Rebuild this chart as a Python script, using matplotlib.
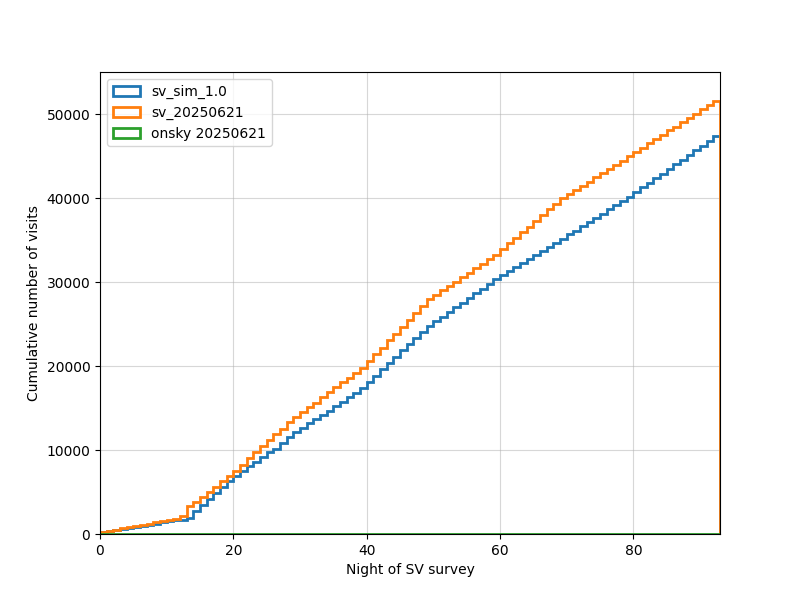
import numpy as np
import matplotlib
matplotlib.use("Agg")
import matplotlib.pyplot as plt

# visits per night
SIM_COUNTS = [200, 120, 130, 140, 120, 130, 140, 130, 120, 140, 130, 110, 100,
              150, 900, 750, 700, 700, 700, 700,
              600, 550, 650, 500, 600, 550, 400, 700, 650, 600,
              550, 500, 550, 500, 450, 600, 450, 550, 500, 600,
              700, 800, 750, 700, 750, 800, 700, 750, 700, 750,
              600, 500, 550, 600, 500, 550, 600, 500, 550, 600,
              500, 550, 450, 500, 450, 500, 450, 500, 450, 500,
              500, 450, 550, 500, 450, 500, 550, 450, 500, 550,
              550, 600, 500, 550, 550, 600, 500, 550, 550, 600, 500, 550, 600]
SV_COUNTS = [200, 150, 150, 160, 150, 140, 150, 150, 130, 140, 150, 130, 300,
             1200, 500, 550, 650, 600, 700, 600,
             650, 700, 800, 700, 750, 700, 650, 700, 750, 650,
             550, 600, 550, 650, 600, 550, 600, 550, 600, 550,
             800, 850, 800, 850, 800, 850, 800, 800, 850, 800,
             550, 500, 550, 500, 550, 500, 550, 500, 550, 550,
             650, 700, 650, 700, 650, 700, 650, 700, 650, 650,
             500, 550, 450, 500, 500, 500, 450, 550, 500, 500,
             500, 550, 500, 500, 550, 500, 450, 500, 550, 500, 500, 500, 500]
ONSKY_COUNTS = []
NIGHTS = np.arange(len(SIM_COUNTS))
BINS = np.arange(len(SIM_COUNTS) + 1)

fig, ax = plt.subplots(figsize=(8, 6), dpi=100)
ax.hist(NIGHTS, bins=BINS, weights=SIM_COUNTS, cumulative=True, histtype="step",
        lw=2, color="C0", label="sv_sim_1.0")
ax.hist(NIGHTS, bins=BINS, weights=SV_COUNTS, cumulative=True, histtype="step",
        lw=2, color="C1", label="sv_20250621")
ax.hist(np.array(ONSKY_COUNTS, dtype=float), bins=BINS, cumulative=True, histtype="step",
        lw=2, color="C2", label="onsky 20250621")
ax.set_xlim(0, 93)
ax.set_ylim(0, 55000)
ax.grid(alpha=0.5)
ax.set_axisbelow(True)
ax.set_xlabel("Night of SV survey")
ax.set_ylabel("Cumulative number of visits")
ax.legend(loc="upper left")
fig.savefig("out.png", dpi=100)
